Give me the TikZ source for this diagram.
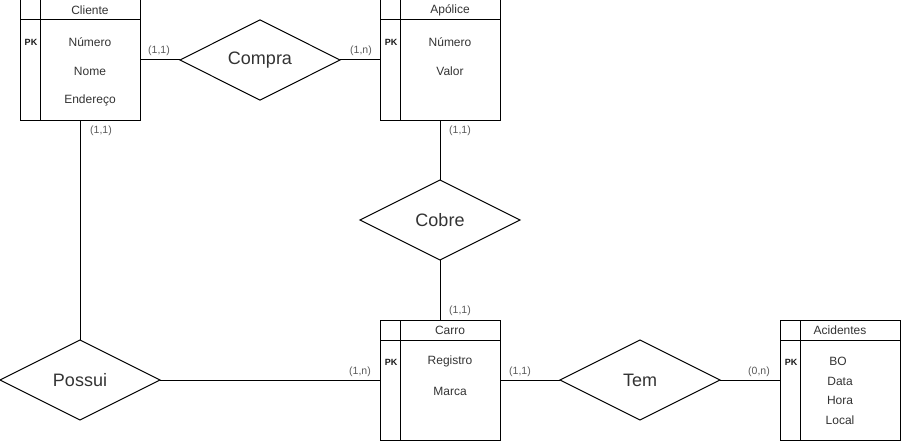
\documentclass[tikz,border=0pt]{standalone}
\usepackage{fontspec}
\setmainfont{Liberation Sans}
\usetikzlibrary{shapes,positioning}
\tikzset{
  tabela/.style={draw, rectangle, minimum width=120pt, minimum height=120pt, inner sep=0pt, outer sep=0pt},
  relacao/.style={draw, diamond, minimum width=160pt, minimum height=80pt, inner sep=0pt, outer sep=0pt, text=black!80, font=\fontsize{18}{20}\selectfont},
  campo/.style={text=black!80, inner sep=0pt, font=\fontsize{12}{14}\selectfont},
  chave/.style={text=black!90, inner sep=0pt, font=\fontsize{9}{10}\selectfont\bfseries},
  card/.style={text=black!65, inner sep=0pt, font=\fontsize{10.5}{12}\selectfont},
}

\begin{document}
\begin{tikzpicture}[x=1pt,y=-1pt,line width=1pt]
  \useasboundingbox (0,0) rectangle (901,441) ; %Tamanho da figura
  \node[tabela] (cli) at (80,60) {} ;   %Tabela Cliente
  \node[tabela] (apo) at (440,60) {} ;  %Tabela Apolice
  \node[tabela] (car) at (440,380) {} ; %Tabela Carro
  \node[tabela] (aci) at (840,380) {} ; %Tabela Acidentes
  \draw ([yshift=-20pt]cli.north west) -- ([yshift=-20pt]cli.north east) ;
  \draw ([xshift=20pt]cli.north west) -- ([xshift=20pt]cli.south west) ;
  \draw ([yshift=-20pt]apo.north west) -- ([yshift=-20pt]apo.north east) ;
  \draw ([xshift=20pt]apo.north west) -- ([xshift=20pt]apo.south west) ;
  \draw ([yshift=-20pt]car.north west) -- ([yshift=-20pt]car.north east) ;
  \draw ([xshift=20pt]car.north west) -- ([xshift=20pt]car.south west) ;
  \draw ([yshift=-20pt]aci.north west) -- ([yshift=-20pt]aci.north east) ;
  \draw ([xshift=20pt]aci.north west) -- ([xshift=20pt]aci.south west) ;
  %\draw (0,0) rectangle (901,441) ;
  \node[campo] (cliTit) at (90,10) {Cliente} ;
  \node[chave] (cliPK) at (31,42) {PK} ;
  \node[campo] (cliNum) at (90,42) {Número} ;
  \node[campo] (cliNom) at (90,71) {Nome} ;
  \node[campo] (cliEnd) at (90,100) {Endereço} ;
  \node[campo] (apoTit) at (450,10) {Apólice} ;
  \node[chave] (apoPK) at (391,42) {PK} ;
  \node[campo] (apoNum) at (450,42) {Número} ;
  \node[campo] (apoVal) at (450,71) {Valor} ;
  \node[campo] (carTit) at (450,330) {Carro} ;
  \node[chave] (carPK) at (391,362) {PK} ;
  \node[campo] (carReg) at (450,361) {Registro} ;
  \node[campo] (carMar) at (450,391) {Marca} ;
  \node[campo] (aciTit) at (840,330) {Acidentes} ;
  \node[chave] (aciPK) at (791,362) {PK} ;
  \node[campo] (aciBO) at (838,361) {BO} ;
  \node[campo] (aciDat) at (840,381) {Data} ;
  \node[campo] (aciHor) at (840,400) {Hora} ;
  \node[campo] (aciLoc) at (840,420) {Local} ;
  \node[relacao] (compra) at (260,60) {Compra} ; %Relacao cliente-apolice
  \node[relacao] (cobre) at (440,220) {Cobre} ;  %Relacao apolice-carro
  \node[relacao] (possui) at (80,380) {Possui} ; %Relacao cliente-carro
  \node[relacao] (tem) at (640,380) {Tem} ;      %Relacao carro-acidentes
  \draw (cli) -- (compra) ;
  \draw (compra) -- (apo) ;
  \draw (apo) -- (cobre) ;
  \draw (cobre) -- (car) ;
  \draw (cli) -- (possui) ;
  \draw (possui) -- (car) ;
  \draw (car) -- (tem) ;
  \draw (tem) -- (aci) ;
  \node[card] (k1) at (159,51) {(1,1)} ;  %Cardinalidades
  \node[card] (k2) at (361,51) {(1,n)} ;
  \node[card] (k3) at (101,131) {(1,1)} ;
  \node[card] (k4) at (460,131) {(1,1)} ;
  \node[card] (k5) at (460,311) {(1,1)} ;
  \node[card] (k6) at (360,372) {(1,n)} ;
  \node[card] (k7) at (520,372) {(1,1)} ;
  \node[card] (k8) at (759,372) {(0,n)} ;
\end{tikzpicture}
\end{document}
